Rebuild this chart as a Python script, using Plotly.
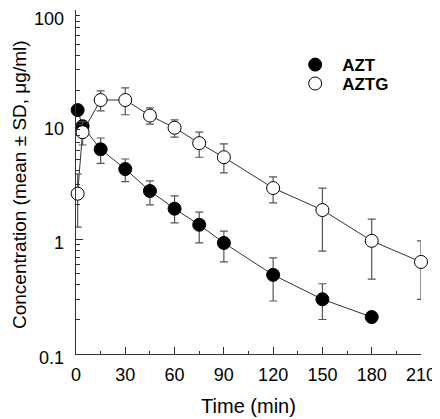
import math
import plotly.graph_objects as go

# ---- data ----
azt_time = [1, 4, 15, 30, 45, 60, 75, 90, 120, 150, 180]
azt_mean = [13.4, 9.7, 6.1, 4.1, 2.64, 1.85, 1.34, 0.93, 0.49, 0.30, 0.21]
azt_plus = [0, 0, 1.55, 0.92, 0.6, 0.54, 0.39, 0.25, 0.2, 0.11, 0]
azt_minus = [0, 0, 1.5, 0.92, 0.64, 0.46, 0.41, 0.295, 0.2, 0.1, 0]

aztg_time = [1, 4, 15, 30, 45, 60, 75, 90, 120, 150, 180, 210]
aztg_mean = [2.5, 8.6, 16.4, 16.4, 12.0, 9.4, 6.9, 5.2, 2.8, 1.8, 0.97, 0.635]
aztg_plus = [1.2, 2.0, 3.3, 4.5, 2.0, 1.6, 1.7, 1.6, 0.7, 1.0, 0.53, 0.335]
aztg_minus = [1.22, 1.95, 3.2, 4.2, 1.9, 1.6, 1.7, 1.4, 0.72, 1.01, 0.52, 0.335]

x_ticks = [0, 30, 60, 90, 120, 150, 180, 210]
y_ticks = [0.1, 1, 10, 100]
y_ticklabels = ["0.1", "1", "10", "100"]

FONT = "Arial, Liberation Sans, sans-serif"
LINE = "#333333"

fig = go.Figure()

series = [
    ("AZT", azt_time, azt_mean, azt_plus, azt_minus, "black", "legend"),
    ("AZTG", aztg_time, aztg_mean, aztg_plus, aztg_minus, "white", "legend2"),
]
for name, t, m, p, mi, fill, leg in series:
    fig.add_trace(go.Scatter(
        x=t, y=m, mode="lines", showlegend=False, hoverinfo="skip",
        line=dict(color=LINE, width=1), cliponaxis=False,
    ))
    fig.add_trace(go.Scatter(
        x=t, y=m, name=name, mode="markers", legend=leg,
        marker=dict(symbol="circle", size=13, color=fill, line=dict(color="black", width=1)),
        error_y=dict(type="data", symmetric=False, array=p, arrayminus=mi,
                     color="#555555", thickness=1.2, width=4),
        cliponaxis=False,
    ))

# y tick labels as text annotations placed on the log axis scale
annotations = []
for val, lab in zip(y_ticks, y_ticklabels):
    shift = -9 if val == max(y_ticks) else -4   # keep the top label inside the page
    annotations.append(dict(
        xref="paper", x=0, yref="y", y=math.log10(val), text=lab, showarrow=False,
        xanchor="right", yanchor="middle", xshift=-10, yshift=shift,
        font=dict(family=FONT, size=18, color="black"),
    ))
annotations.append(dict(
    xref="paper", x=0, yref="paper", y=0.5, text="Concentration (mean \u00b1 SD, \u03bcg/ml)",
    showarrow=False, textangle=-90, xanchor="center", yanchor="middle",
    xshift=-57, yshift=-3, font=dict(family=FONT, size=19, color="black"),
))

legfont = dict(family=FONT, size=17, color="black", weight="bold")
fig.update_layout(
    width=432, height=411,
    margin=dict(l=68, r=19, t=2, b=65, autoexpand=False),
    paper_bgcolor="white", plot_bgcolor="white",
    font=dict(family=FONT, size=18, color="black"),
    showlegend=True,
    legend=dict(x=0.615, y=0.840, xanchor="left", yanchor="middle",
                font=legfont, itemwidth=44, bgcolor="rgba(0,0,0,0)"),
    legend2=dict(x=0.615, y=0.785, xanchor="left", yanchor="middle",
                 font=legfont, itemwidth=44, bgcolor="rgba(0,0,0,0)"),
    annotations=annotations,
    xaxis=dict(
        range=[0, 210], tickvals=x_ticks, ticks="inside", ticklen=7,
        tickcolor=LINE, showline=True, linecolor=LINE, linewidth=1,
        showgrid=False, zeroline=False, automargin=False,
        minor=dict(dtick=15, ticks="inside", ticklen=3, tickcolor=LINE, showgrid=False),
        title=dict(text="Time (min)", font=dict(size=20)),
        tickfont=dict(size=18), ticklabelstandoff=4, ticklabeloverflow="allow",
    ),
    yaxis=dict(
        type="log", range=[-1, 2], tickvals=y_ticks, showticklabels=False,
        ticks="inside", ticklen=7, tickcolor=LINE,
        showline=True, linecolor=LINE, linewidth=1,
        showgrid=False, zeroline=False, automargin=False,
        minor=dict(ticks="inside", ticklen=4, tickcolor=LINE, showgrid=False, dtick="D1"),
    ),
)

fig.write_html("out.html")
